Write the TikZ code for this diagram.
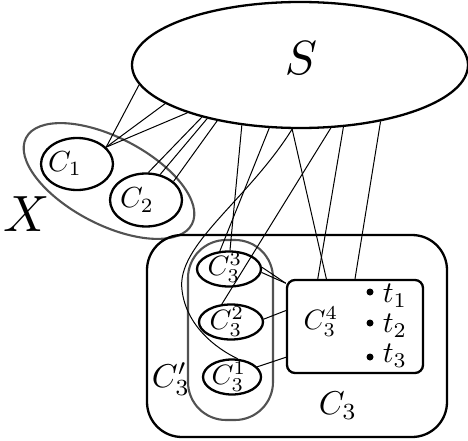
\documentclass[tikz,border=0pt]{standalone}
\usetikzlibrary{shapes.geometric}
\begin{document}
\begin{tikzpicture}[x=1pt,y=-1pt,
  blob/.style={draw,ellipse,line width=2.3pt,inner sep=0pt},
  grp/.style={draw=black!68,line width=2.1pt,inner sep=0pt},
  boxc/.style={draw,rectangle,line width=2.3pt,inner sep=0pt},
  lab/.style={inner sep=0pt},
  conn/.style={line width=1pt},
  dotc/.style={circle,fill,inner sep=0pt,minimum size=7pt}]
\useasboundingbox (0,0) rectangle (468,441);
% main shapes
\node[blob,minimum width=336pt,minimum height=126pt] (S) at (300,65) {};
\node[lab,scale=4.8] (Slab) at (301,58) {$S$};
\node[grp,ellipse,rotate=-27.5,minimum width=187pt,minimum height=87pt] (X) at (109,181) {};
\node[lab,scale=5.1] (Xlab) at (27,214) {$X$};
\node[blob,minimum width=72pt,minimum height=52pt] (C1) at (77,164) {};
\node[lab,scale=2.9] (C1lab) at (65,163.5) {$C_1$};
\node[blob,minimum width=72pt,minimum height=53pt] (C2) at (146,200) {};
\node[lab,scale=2.9] (C2lab) at (137,200) {$C_2$};
\node[boxc,rounded corners=35pt,minimum width=300pt,minimum height=202pt] (C3) at (297,336) {};
\node[lab,scale=3.3] (C3lab) at (338,406) {$C_3$};
\node[grp,rectangle,rounded corners=38pt,minimum width=85pt,minimum height=180pt] (C3p) at (230.5,330) {};
\node[lab,scale=3.3] (C3plab) at (171,379) {$C_3'$};
\node[blob,minimum width=64pt,minimum height=35pt] (C33) at (229,269) {};
\node[lab,scale=2.8] (C33lab) at (225,268) {$C_3^3$};
\node[blob,minimum width=64pt,minimum height=35pt] (C32) at (231,322) {};
\node[lab,scale=2.8] (C32lab) at (227,322) {$C_3^2$};
\node[blob,minimum width=58pt,minimum height=35pt] (C31) at (232,377) {};
\node[lab,scale=2.8] (C31lab) at (229,377) {$C_3^1$};
\node[boxc,rounded corners=8pt,minimum width=136pt,minimum height=93pt] (C34) at (355,326.5) {};
\node[lab,scale=2.8] (C34lab) at (321,322) {$C_3^4$};
\node[dotc] (d1) at (370,292) {};
\node[dotc] (d2) at (370,323) {};
\node[dotc] (d3) at (370,357) {};
\node[lab,scale=3] (t1) at (395,296) {$t_1$};
\node[lab,scale=3] (t2) at (395,326) {$t_2$};
\node[lab,scale=3] (t3) at (395,356) {$t_3$};
% connectors
\draw[conn] (C1.30.4) -- (S.187.9);
\draw[conn] (C1.30.4) -- (S.196.1);
\draw[conn] (C1.30.4) -- (S.203.5);
\draw[conn] (C2.85.8) -- (S.208.1);
\draw[conn] (C2.61.7) -- (S.210.5);
\draw[conn] (C2.34.6) -- (S.214.3);
\draw[conn] (S.226) -- (C33.87);
\draw[conn] (S.244.5) -- (C33.117.9);
\draw[conn] (S.296.2) -- (C32.117.9);
\draw[conn] (S.263.9) .. controls (248,200) and (176,245) .. (182,290)
                      .. controls (186,325) and (215,348) .. (C31.73.6);
\draw[conn] (S.263.9) -- (C34.121.4);
\draw[conn] (S.305.2) -- (C34.128.1);
\draw[conn] (S.325.7) -- (C34.90);
\draw[conn] (C33.3.5) -- (C34.148.6);
\draw[conn] (C33.-6.7) -- (C34.148.6);
\draw[conn] (C32.5.4) -- (C34.167.96);
\draw[conn] (C31.22.9) -- (C34.204.9);
\end{tikzpicture}
\end{document}
